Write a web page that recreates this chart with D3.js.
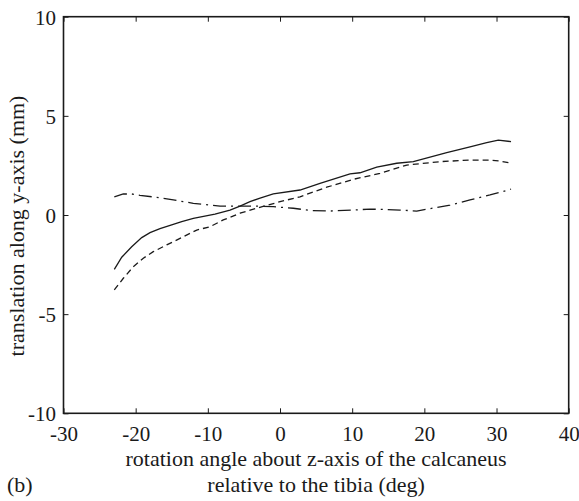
<!DOCTYPE html>
<html>
<head>
<meta charset="utf-8">
<script src="https://cdn.jsdelivr.net/npm/d3@7"></script>
<style>
  body { margin: 0; background: #fff; }
  svg { display: block; font-family: "Liberation Serif", "Times New Roman", serif; }
</style>
</head>
<body>
<div id="chart"></div>
<script>
// tick values
var xTicks = [-30, -20, -10, 0, 10, 20, 30, 40];
var yTicks = [-10, -5, 0, 5, 10];

// solid curve
var solidAngle = [-22.96, -21.93, -20.55, -19.16, -18.01, -16.63, -15.01, -13.62, -12.01, -9.01, -6.93, -5.54, -4.16, -2.87, -0.93, 2.77, 5.54, 9.70, 11.08, 13.40, 16.17, 18.47, 23.10, 26.33, 28.64, 30.25, 32.01];
var solidTrans = [-2.74, -2.13, -1.60, -1.14, -0.89, -0.69, -0.50, -0.34, -0.17, 0.04, 0.25, 0.45, 0.67, 0.84, 1.06, 1.26, 1.60, 2.07, 2.13, 2.41, 2.61, 2.69, 3.14, 3.44, 3.65, 3.78, 3.70];

// dashed curve
var dashAngle = [-22.96, -21.71, -20.33, -18.94, -17.56, -15.70, -13.86, -11.54, -9.70, -7.86, -5.54, -3.23, 0, 2.77, 6.47, 10.16, 13.86, 17.56, 22.17, 26.33, 29.10, 30.48, 32.01];
var dashTrans = [-3.78, -3.19, -2.61, -2.18, -1.85, -1.51, -1.18, -0.76, -0.59, -0.25, 0.09, 0.34, 0.67, 0.92, 1.40, 1.80, 2.10, 2.52, 2.69, 2.77, 2.77, 2.72, 2.61];

// dash-dot curve
var dotAngle = [-22.96, -21.71, -20.55, -19.40, -17.08, -14.78, -12.01, -9.70, -8.31, -6.47, -3.70, -0.93, 1.84, 4.39, 6.93, 10.16, 12.47, 16.63, 18.94, 20.78, 23.56, 26.33, 29.10, 32.01];
var dotTrans = [0.92, 1.06, 1.06, 0.99, 0.89, 0.76, 0.59, 0.50, 0.45, 0.45, 0.45, 0.42, 0.34, 0.22, 0.20, 0.25, 0.30, 0.25, 0.20, 0.32, 0.50, 0.76, 1.01, 1.30];

var width = 579, height = 501;
var plotL = 63.5, plotR = 568.7, plotT = 16.7, plotB = 413.3;

var svg = d3.select('#chart').append('svg')
    .attr('width', width)
    .attr('height', height);

var x = d3.scaleLinear().domain([-30, 40]).range([plotL, plotR]);
var y = d3.scaleLinear().domain([-10, 10]).range([plotB, plotT]);

var ink = '#1a1a1a';
var fmt = function (d) { return String(d); };

function styleAxis(g) {
    g.select('.domain').remove();
    g.selectAll('.tick line').attr('stroke', ink).attr('stroke-width', 1);
    g.selectAll('.tick text')
        .attr('fill', ink)
        .style('font-size', '21px')
        .style('font-family', '"Liberation Serif", "Times New Roman", serif');
}

svg.append('g')
    .attr('transform', 'translate(0,' + plotB + ')')
    .call(d3.axisBottom(x).tickValues(xTicks).tickSizeInner(-5).tickSizeOuter(0).tickPadding(12.3).tickFormat(fmt))
    .call(styleAxis);
svg.append('g')
    .attr('transform', 'translate(0,' + plotT + ')')
    .call(d3.axisTop(x).tickValues(xTicks).tickSizeInner(-5).tickSizeOuter(0).tickFormat(''))
    .call(styleAxis);
svg.append('g')
    .attr('transform', 'translate(' + plotL + ',0)')
    .call(d3.axisLeft(y).tickValues(yTicks).tickSizeInner(-5).tickSizeOuter(0).tickPadding(7.5).tickFormat(fmt))
    .call(styleAxis)
    .selectAll('.tick text').attr('dy', '0.36em');
svg.append('g')
    .attr('transform', 'translate(' + plotR + ',0)')
    .call(d3.axisRight(y).tickValues(yTicks).tickSizeInner(-5).tickSizeOuter(0).tickFormat(''))
    .call(styleAxis);

// frame
svg.append('rect')
    .attr('x', plotL).attr('y', plotT)
    .attr('width', plotR - plotL).attr('height', plotB - plotT)
    .attr('fill', 'none')
    .attr('stroke', ink)
    .attr('stroke-width', 1.6);

var line = d3.line()
    .x(function (d) { return x(d[0]); })
    .y(function (d) { return y(d[1]); });

var series = [
    { a: solidAngle, v: solidTrans, dash: null },
    { a: dashAngle, v: dashTrans, dash: '6,4' },
    { a: dotAngle, v: dotTrans, dash: '13,5,2,5' }
];

svg.append('g').selectAll('path')
    .data(series)
    .enter().append('path')
    .attr('d', function (s) { return line(s.a.map(function (d, i) { return [d, s.v[i]]; })); })
    .attr('fill', 'none')
    .attr('stroke', ink)
    .attr('stroke-width', 1.3)
    .attr('stroke-dasharray', function (s) { return s.dash; });

// labels
var labelFont = '22px';
svg.append('text')
    .attr('transform', 'translate(23.5,226) rotate(-90)')
    .attr('text-anchor', 'middle')
    .style('font-size', labelFont)
    .attr('fill', ink)
    .text('translation along y-axis (mm)');
svg.append('text')
    .attr('x', (plotL + plotR) / 2).attr('y', 466)
    .attr('text-anchor', 'middle')
    .style('font-size', labelFont)
    .attr('fill', ink)
    .text('rotation angle about z-axis of the calcaneus');
svg.append('text')
    .attr('x', (plotL + plotR) / 2).attr('y', 491.5)
    .attr('text-anchor', 'middle')
    .style('font-size', labelFont)
    .attr('fill', ink)
    .text('relative to the tibia (deg)');
svg.append('text')
    .attr('x', 7).attr('y', 491.5)
    .style('font-size', labelFont)
    .attr('fill', ink)
    .text('(b)');
</script>
</body>
</html>
